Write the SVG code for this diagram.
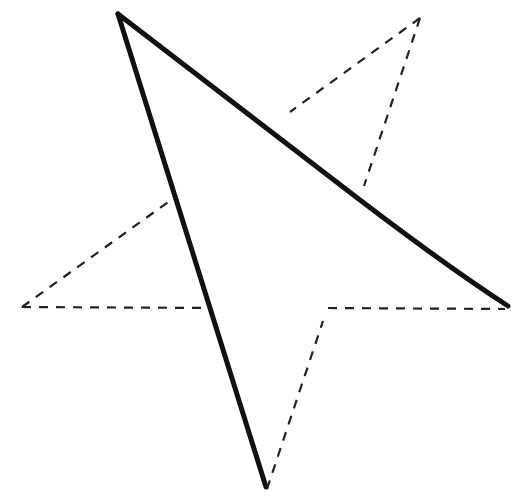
<svg xmlns="http://www.w3.org/2000/svg" width="511" height="499" viewBox="0 0 511 499">
<style>
.solid{fill:none;stroke:#111;stroke-width:5;stroke-linecap:round;stroke-linejoin:round}
.dash{fill:none;stroke:#222;stroke-width:2.2;stroke-dasharray:9 8}
</style>
<rect width="511" height="499" fill="#fff"/>
<g id="connectors">
<path class="solid" d="M118,14 L330,177 Q440,262 508,306"/>
<path class="solid" d="M118,14 L266,487"/>
<path class="dash" d="M420,18 L290,112"/>
<path class="dash" d="M420,18 L364,186"/>
<path class="dash" d="M22,307 L171,200"/>
<path class="dash" d="M22,307 L210,308"/>
<path class="dash" d="M328,308 L505,309"/>
<path class="dash" d="M267,489 L323,321"/>
</g>
</svg>
